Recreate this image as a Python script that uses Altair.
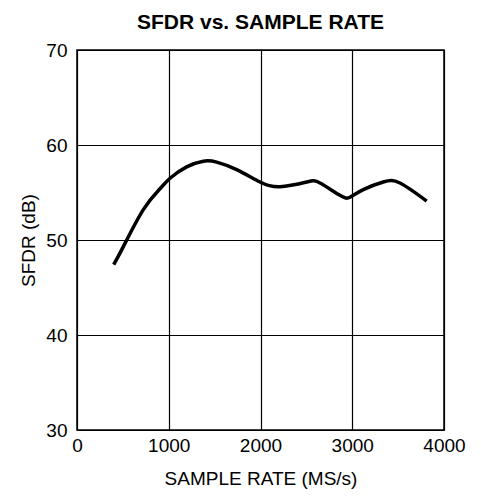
import altair as alt
import pandas as pd

sample_rate = [400, 505, 723, 905, 1014, 1195, 1377, 1522, 1740, 1995, 2213, 2503, 2649, 2866, 2975, 3120, 3338, 3520, 3811]
sfdr = [47.4, 49.3, 53.2, 55.4, 56.5, 57.7, 58.3, 58.2, 57.4, 56.1, 55.6, 56.1, 56.0, 54.7, 54.5, 55.3, 56.1, 56.0, 54.1]
x_ticks = [0, 1000, 2000, 3000, 4000]
y_ticks = [30, 40, 50, 60, 70]

df = pd.DataFrame({"rate": sample_rate, "sfdr": sfdr})

FONT = "Liberation Sans"

chart = alt.Chart(df).mark_line(
    color="black", strokeWidth=3.5, interpolate="natural"
).encode(
    x=alt.X("rate:Q", scale=alt.Scale(domain=[0, 4000], nice=False),
            axis=alt.Axis(values=x_ticks, format="d", title="SAMPLE RATE (MS/s)", ticks=False,
                          labelFlush=False, labelPadding=6, titlePadding=14, gridColor="black",
                          gridOpacity=1, gridWidth=1.2, domain=False)),
    y=alt.Y("sfdr:Q", scale=alt.Scale(domain=[30, 70], nice=False, zero=False),
            axis=alt.Axis(values=y_ticks, format="d", title="SFDR (dB)", ticks=False,
                          labelFlush=False, labelPadding=10, titlePadding=7, gridColor="black",
                          gridOpacity=1, gridWidth=1.2, domain=False)),
).properties(
    width=367, height=380,
    title=alt.TitleParams("SFDR vs. SAMPLE RATE", fontSize=21, font=FONT,
                          fontWeight="bold", anchor="middle", offset=8, color="black"),
    autosize=alt.AutoSizeParams(type="none"),
    padding={"left": 69, "top": 42, "right": 25, "bottom": 62},
).configure_view(
    stroke="black", strokeWidth=1.5
).configure_axis(
    labelFont=FONT, titleFont=FONT, labelFontSize=19, titleFontSize=19,
    labelColor="black", titleColor="black", titleFontWeight="normal"
)

chart.save("out.html", embed_options={"renderer": "svg", "actions": False})
